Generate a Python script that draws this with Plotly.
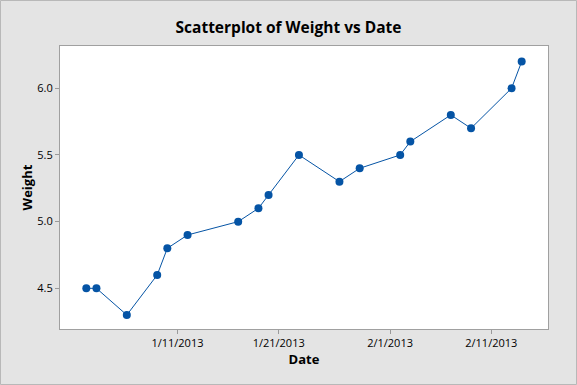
import plotly.graph_objects as go

dates = ["2013-01-02", "2013-01-03", "2013-01-06", "2013-01-09", "2013-01-10", "2013-01-12",
         "2013-01-17", "2013-01-19", "2013-01-20", "2013-01-23", "2013-01-27", "2013-01-29",
         "2013-02-02", "2013-02-03", "2013-02-07", "2013-02-09", "2013-02-13", "2013-02-14"]
weights = [4.5, 4.5, 4.3, 4.6, 4.8, 4.9, 5.0, 5.1, 5.2, 5.5, 5.3, 5.4, 5.5, 5.6, 5.8, 5.7, 6.0, 6.2]

x_tick_vals = ["2013-01-11", "2013-01-21", "2013-02-01", "2013-02-11"]
x_tick_text = ["1/11/2013", "1/21/2013", "2/1/2013", "2/11/2013"]
y_tick_vals = [4.5, 5.0, 5.5, 6.0]
y_tick_text = ["4.5", "5.0", "5.5", "6.0"]

blue = "#0554a5"
font = "Open Sans"

fig = go.Figure()
fig.add_trace(go.Scatter(
    x=dates, y=weights, mode="lines+markers",
    line=dict(color=blue, width=1),
    marker=dict(color=blue, size=8, line=dict(width=0)),
    showlegend=False,
))

fig.update_layout(
    width=577, height=385,
    margin=dict(l=60, r=29, t=46, b=56, autoexpand=False),
    paper_bgcolor="#e4e4e4", plot_bgcolor="white",
    font=dict(family=font, color="black"),
    title=dict(text="<b>Scatterplot of Weight vs Date</b>", x=0.5, xref="container",
               y=1 - 27.5 / 385, yanchor="middle", xanchor="center",
               font=dict(size=15.5, family=font)),
    xaxis=dict(
        range=["2012-12-30 09:36", "2013-02-16 14:24"],
        tickvals=x_tick_vals, ticktext=x_tick_text,
        ticks="outside", ticklen=4, tickcolor="#9a9a9a", tickwidth=1,
        showgrid=False, zeroline=False, automargin=False,
        showline=True, linecolor="#a0a0a0", linewidth=1, mirror=True,
        tickfont=dict(size=11),
        title=dict(text="<b>Date</b>", font=dict(size=13), standoff=4),
    ),
    yaxis=dict(
        range=[4.195, 6.317],
        tickvals=y_tick_vals, ticktext=y_tick_text,
        ticks="outside", ticklen=4, tickcolor="#9a9a9a", tickwidth=1,
        showgrid=False, zeroline=False, automargin=False,
        showline=True, linecolor="#a0a0a0", linewidth=1, mirror=True,
        tickfont=dict(size=11),
        title=dict(text="<b>Weight</b>", font=dict(size=13), standoff=1),
    ),
)

fig.add_shape(type="rect", xref="paper", yref="paper",
              x0=-59.5 / 488, x1=1 + 28.5 / 488, y0=-55.5 / 283, y1=1 + 45.5 / 283,
              line=dict(color="#b8b8b8", width=1), fillcolor="rgba(0,0,0,0)", layer="below")

fig.write_html("out.html", config={"displayModeBar": False},
               post_script="document.body.style.margin='0';document.body.style.overflow='hidden';")
